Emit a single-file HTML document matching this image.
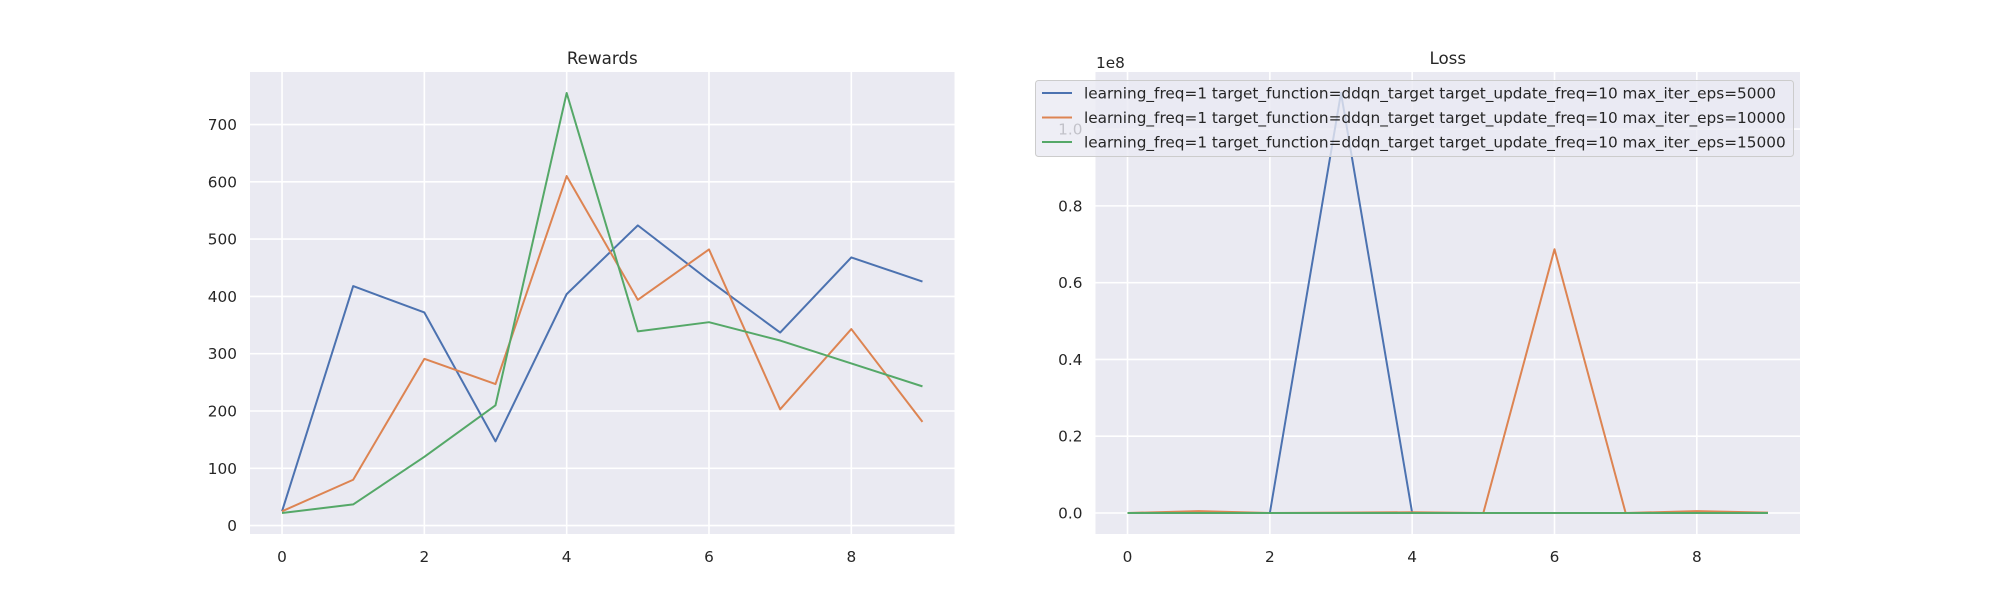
<!DOCTYPE html>
<html><head><meta charset="utf-8"><style>
html,body{margin:0;padding:0;background:#fff}
svg{display:block}
text{font-family:"DejaVu Sans","Liberation Sans",sans-serif;fill:#262626}
</style></head><body>
<svg id="fig" width="2000" height="600" xmlns="http://www.w3.org/2000/svg"></svg>
<script>
const xs = [0,1,2,3,4,5,6,7,8,9];
const rewardsBlue = [25,418,372,147,404,524,428,337,468,426];
const rewardsOrange = [25,80,291,247,610,394,482,203,343,181];
const rewardsGreen = [22,37,120,210,755,339,355,323,283,243];
const lossBlue = [0,0,0,1.094e8,0,0,0,0,0,0];
const lossOrange = [0,0.5e6,0,0.1e6,0.2e6,0,6.87e7,0,0.5e6,0.1e6];
const lossGreen = [0,0,0,0,0,0,0,0,0,0];
const xTicks = [0,2,4,6,8];
const rewardTicks = [0,100,200,300,400,500,600,700];
const lossTicks = [0,0.2e8,0.4e8,0.6e8,0.8e8,1.0e8];
const lossTickLabels = ["0.0","0.2","0.4","0.6","0.8","1.0"];
const legendLabels = [
 "learning_freq=1 target_function=ddqn_target target_update_freq=10 max_iter_eps=5000",
 "learning_freq=1 target_function=ddqn_target target_update_freq=10 max_iter_eps=10000",
 "learning_freq=1 target_function=ddqn_target target_update_freq=10 max_iter_eps=15000"];
const colors = ["#4c72b0","#dd8452","#55a868"];

const NS="http://www.w3.org/2000/svg";
const svg=document.getElementById('fig');
function mk(tag,attrs,parent){const e=document.createElementNS(NS,tag);for(const k in attrs)e.setAttribute(k,attrs[k]);(parent||svg).appendChild(e);return e;}

function drawAxes(name,x0,x1,y0,y1,series,yticks,ylabels,title){
  const g=mk('g',{});
  
  
  let all=[].concat(...series);
  let mn=Math.min(...all),mx=Math.max(...all),r=mx-mn;
  const ymin=mn-0.05*r,ymax=mx+0.05*r;
  const xmin=-0.45,xmax=9.45;
  const X=v=>x0+(v-xmin)/(xmax-xmin)*(x1-x0);
  const Y=v=>y1-(v-ymin)/(ymax-ymin)*(y1-y0);
  mk('rect',{x:x0,y:y0,width:x1-x0,height:y1-y0,fill:'#eaeaf2'},g);
  xTicks.forEach(t=>{
    const l=mk('line',{x1:X(t),x2:X(t),y1:y0,y2:y1,stroke:'#fff','stroke-width':1.6},g);
    
    
    const tx=mk('text',{x:X(t),y:y1+28,'text-anchor':'middle','font-size':15.3},g);
    tx.textContent=t;
    
    
  });
  yticks.forEach((t,i)=>{
    const l=mk('line',{x1:x0,x2:x1,y1:Y(t),y2:Y(t),stroke:'#fff','stroke-width':1.6},g);
    
    
    const tx=mk('text',{x:x0-13,y:Y(t)+5.5,'text-anchor':'end','font-size':15.3},g);
    tx.textContent=ylabels[i];
    
    
  });
  series.forEach((s,i)=>{
    const p=mk('polyline',{points:s.map((v,j)=>X(xs[j])+','+Y(v)).join(' '),fill:'none',stroke:colors[i],'stroke-width':2,'stroke-linejoin':'round'},g);
    
    
  });
  const tt=mk('text',{x:(x0+x1)/2,y:y0-8,'text-anchor':'middle','font-size':16.7},g);
  tt.textContent=title;
  
  
  return g;
}
drawAxes('rewards',250,954.5,72,534,[rewardsBlue,rewardsOrange,rewardsGreen],rewardTicks,rewardTicks.map(String),'Rewards');
drawAxes('loss',1095.5,1800,72,534,[lossBlue,lossOrange,lossGreen],lossTicks,lossTickLabels,'Loss');
const off=mk('text',{x:1096,y:68,'font-size':15.3});
off.textContent='1e8';


const lg=mk('g',{});


mk('rect',{x:1035.5,y:80.5,width:758,height:76,rx:3,fill:'#eaeaf2','fill-opacity':0.8,stroke:'#cccccc'},lg);
legendLabels.forEach((t,i)=>{
  const y=93+i*24.5;
  const l=mk('line',{x1:1042,x2:1072,y1:y,y2:y,stroke:colors[i],'stroke-width':2},lg);
  
  
  const tx=mk('text',{x:1084,y:y+5.5,'font-size':15.3},lg);
  tx.textContent=t;
  
  
});
</script>
</body></html>
